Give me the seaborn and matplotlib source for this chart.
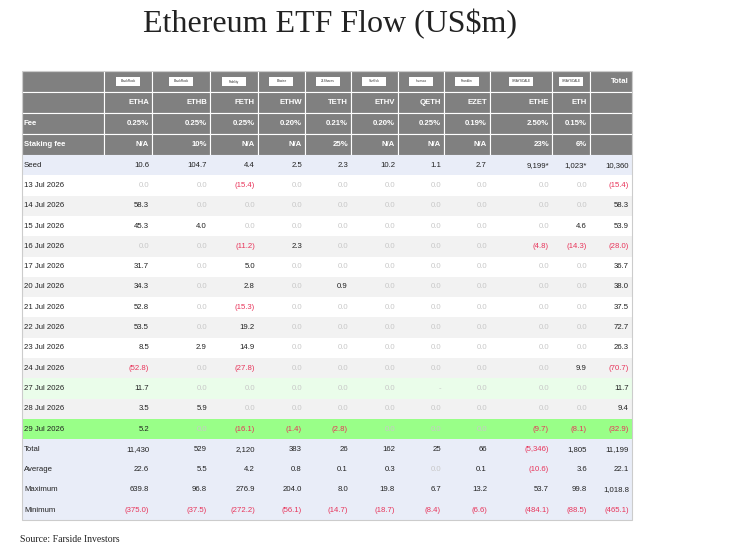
import matplotlib.pyplot as plt
import matplotlib.patches as mpatches
import numpy as np
import seaborn as sns

sns.set_theme(style="white")
plt.rcParams['font.family'] = ['Liberation Sans', 'DejaVu Sans']

tickers = ["ETHA", "ETHB", "FETH", "ETHW", "TETH", "ETHV", "QETH", "EZET", "ETHE", "ETH"]
issuers = ["BlackRock", "BlackRock", "Fidelity", "Bitwise", "21Shares", "VanEck", "Invesco", "Franklin", "GRAYSCALE", "GRAYSCALE"]
fees = ["0.25%", "0.25%", "0.25%", "0.20%", "0.21%", "0.20%", "0.25%", "0.19%", "2.50%", "0.15%"]
staking = ["N/A", "10%", "N/A", "N/A", "25%", "N/A", "N/A", "N/A", "23%", "6%"]
seed = ["10.6", "104.7", "4.4", "2.5", "2.3", "10.2", "1.1", "2.7", "9,199*", "1,023*", "10,360"]

dates = ["13 Jul 2026", "14 Jul 2026", "15 Jul 2026", "16 Jul 2026", "17 Jul 2026", "20 Jul 2026",
         "21 Jul 2026", "22 Jul 2026", "23 Jul 2026", "24 Jul 2026", "27 Jul 2026", "28 Jul 2026", "29 Jul 2026"]
flows = [
    [0.0, 0.0, -15.4, 0.0, 0.0, 0.0, 0.0, 0.0, 0.0, 0.0, -15.4],
    [58.3, 0.0, 0.0, 0.0, 0.0, 0.0, 0.0, 0.0, 0.0, 0.0, 58.3],
    [45.3, 4.0, 0.0, 0.0, 0.0, 0.0, 0.0, 0.0, 0.0, 4.6, 53.9],
    [0.0, 0.0, -11.2, 2.3, 0.0, 0.0, 0.0, 0.0, -4.8, -14.3, -28.0],
    [31.7, 0.0, 5.0, 0.0, 0.0, 0.0, 0.0, 0.0, 0.0, 0.0, 36.7],
    [34.3, 0.0, 2.8, 0.0, 0.9, 0.0, 0.0, 0.0, 0.0, 0.0, 38.0],
    [52.8, 0.0, -15.3, 0.0, 0.0, 0.0, 0.0, 0.0, 0.0, 0.0, 37.5],
    [53.5, 0.0, 19.2, 0.0, 0.0, 0.0, 0.0, 0.0, 0.0, 0.0, 72.7],
    [8.5, 2.9, 14.9, 0.0, 0.0, 0.0, 0.0, 0.0, 0.0, 0.0, 26.3],
    [-52.8, 0.0, -27.8, 0.0, 0.0, 0.0, 0.0, 0.0, 0.0, 9.9, -70.7],
    [11.7, 0.0, 0.0, 0.0, 0.0, 0.0, np.nan, 0.0, 0.0, 0.0, 11.7],
    [3.5, 5.9, 0.0, 0.0, 0.0, 0.0, 0.0, 0.0, 0.0, 0.0, 9.4],
    [5.2, 0.0, -16.1, -1.4, -2.8, 0.0, 0.0, 0.0, -9.7, -8.1, -32.9],
]
summary_labels = ["Total", "Average", "Maximum", "Minimum"]
totals = [11430, 529, 2120, 383, 26, 162, 25, 66, -5346, 1805, 11199]
averages = [22.6, 5.5, 4.2, 0.8, 0.1, 0.3, 0.0, 0.1, -10.6, 3.6, 22.1]
maximums = [639.8, 96.8, 276.9, 204.0, 8.0, 19.8, 6.7, 13.2, 53.7, 99.8, 1018.8]
minimums = [-375.0, -37.5, -272.2, -56.1, -14.7, -18.7, -8.4, -6.6, -484.1, -88.5, -465.1]

RED = "#e8345a"
GREY_TXT = "#c8c8c8"
HEAD = "#808080"


def fmt(v, dec=1):
    if v != v:
        return "-", GREY_TXT
    s = f"{abs(v):,.{dec}f}"
    if v < 0:
        return f"({s})", RED
    if v == 0:
        return s, GREY_TXT
    return s, "#222222"


fig = plt.figure(figsize=(7.37, 5.5), dpi=100)
ax = fig.add_axes([0, 0, 1, 1])
ax.set_xlim(0, 737)
ax.set_ylim(550, 0)
ax.axis("off")

edges = [22, 104, 152, 210, 258, 305, 351, 398, 444, 490, 552, 590, 632]
head_h = 21
row_h = 20.3
top = 71
fs = 5.6


def rect(x0, x1, y0, y1, color, ec="none"):
    ax.add_patch(mpatches.Rectangle((x0, y0), x1 - x0, y1 - y0, facecolor=color, edgecolor=ec, lw=0.8))


# header rows
for r in range(4):
    y0 = top + r * head_h
    for c in range(12):
        rect(edges[c], edges[c + 1], y0, y0 + head_h, HEAD, ec="white")
    yc = y0 + head_h / 2
    if r == 0:
        for c, name in enumerate(issuers):
            xc = (edges[c + 1] + edges[c + 2]) / 2
            rect(xc - 12, xc + 12, yc - 5, yc + 4, "white")
            ax.text(xc, yc, name, fontsize=2.3, ha="center", va="center", color="#333")
        ax.text(edges[12] - 3, yc, "Total", fontsize=fs, ha="right", va="center", color="white", weight="bold")
    elif r == 1:
        for c, t in enumerate(tickers):
            ax.text(edges[c + 2] - 3, yc, t, fontsize=fs, ha="right", va="center", color="white", weight="bold")
    else:
        label = "Fee" if r == 2 else "Staking fee"
        vals = fees if r == 2 else staking
        ax.text(edges[0] + 2, yc, label, fontsize=fs, ha="left", va="center", color="white", weight="bold")
        for c, t in enumerate(vals):
            ax.text(edges[c + 2] - 3, yc, t, fontsize=fs, ha="right", va="center", color="white", weight="bold")

body_top = top + 4 * head_h
body_rows = [("Seed", None)] + [(d, f) for d, f in zip(dates, flows)] + \
    [(l, v) for l, v in zip(summary_labels, [totals, averages, maximums, minimums])]
for i, (label, vals) in enumerate(body_rows):
    y0 = body_top + i * row_h
    if label == "Seed" or label in summary_labels:
        bg = "#e9edf8"
    elif label == "29 Jul 2026":
        bg = "#99ff88"
    elif label == "27 Jul 2026":
        bg = "#eafdea"
    else:
        bg = "white" if (i % 2 == 1) else "#f2f2f2"
    rect(edges[0], edges[-1], y0, y0 + row_h, bg)
    yc = y0 + row_h / 2
    ax.text(edges[0] + 2, yc, label, fontsize=fs, ha="left", va="center", color="#222")
    for c in range(11):
        if vals is None:
            s, col = seed[c], "#222222"
        elif label == "Total":
            s, col = fmt(vals[c], 0)
        else:
            s, col = fmt(vals[c])
        ax.text(edges[c + 2] - 3, yc, s, fontsize=fs, ha="right", va="center", color=col)

bottom = body_top + len(body_rows) * row_h
ax.add_patch(mpatches.Rectangle((edges[0], top), edges[-1] - edges[0], bottom - top,
                                facecolor="none", edgecolor="#cccccc", lw=0.8))

ax.text(330, 24, "Ethereum ETF Flow (US$m)", fontsize=23, ha="center", va="center",
        family=["Liberation Serif", "DejaVu Serif"], color="#222")
ax.text(20, 540, "Source: Farside Investors", fontsize=7, ha="left", va="center",
        family=["Liberation Serif", "DejaVu Serif"], color="#222")

fig.savefig("out.png", dpi=100)
